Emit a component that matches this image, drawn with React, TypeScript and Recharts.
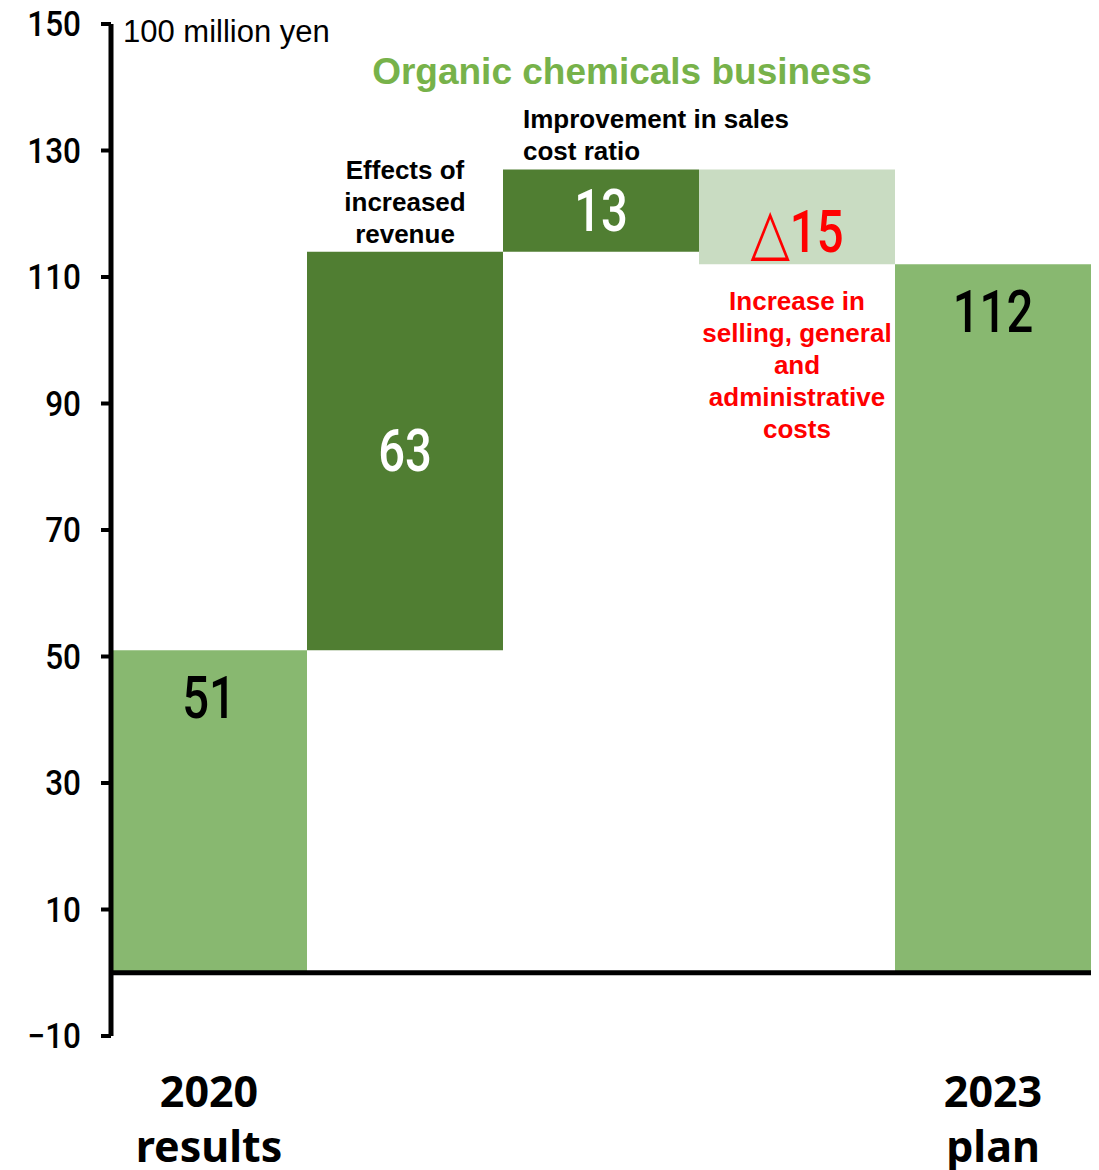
import React from "react";
import { ComposedChart, Bar, XAxis, YAxis, ReferenceLine, Cell, LabelList } from "recharts";

const categories = [
  "2020 results",
  "Effects of increased revenue",
  "Improvement in sales cost ratio",
  "Increase in selling, general and administrative costs",
  "2023 plan",
];
const baseValues = [0, 51, 114, 112, 0];
const deltaValues = [51, 63, 13, 15, 112];
const valueLabels = ["51", "63", "13", "△15", "112"];
const kinds = ["total", "up", "up", "down", "total"];
const yTicks = [-10, 10, 30, 50, 70, 90, 110, 130, 150];
const xTickLines = [["2020", "results"], [], [], [], ["2023", "plan"]];
const noteLines = [
  [],
  ["Effects of", "increased", "revenue"],
  ["Improvement in sales", "cost ratio"],
  ["Increase in", "selling, general", "and", "administrative", "costs"],
  [],
];
const titleText = "Organic chemicals business";
const unitText = "100 million yen";

const barColors = ["#88B870", "#507E32", "#507E32", "#C9DCC2", "#88B870"];
const labelColors = ["#000000", "#FFFFFF", "#FFFFFF", "#FF0000", "#000000"];
const noteColors = ["#000", "#000", "#000", "#FF0000", "#000"];
const noteAlign = ["middle", "middle", "start", "middle", "middle"];

const data = categories.map((name, i) => ({ name, base: baseValues[i], delta: deltaValues[i] }));

const NUMFONT = "Roboto, 'Liberation Sans', sans-serif";
const ARIAL = "'Liberation Sans', Arial, sans-serif";

const NarrowText = ({ x, y, sx, anchor, children, ...rest }: any) => (
  <g transform={`translate(${x},${y}) scale(${sx},1)`}>
    <text x={0} y={0} textAnchor={anchor} dominantBaseline="central" {...rest}>
      {children}
    </text>
  </g>
);

const renderValueLabel = (props: any) => {
  const { x, y, width, height, index } = props;
  const i = index;
  const kind = kinds[i];
  const cx = x + width / 2;
  let cy = y + height / 2;
  if (kind === "total") cy = y + 47;
  if (kind === "down") cy = y + height / 2 + 14;
  const label = valueLabels[i];
  const hasTri = label.startsWith("△");
  const nodes: any[] = [];
  nodes.push(
    <NarrowText
      key="v"
      x={cx}
      y={cy}
      sx={0.8}
      anchor="middle"
      fontFamily={NUMFONT}
      fontWeight={500}
      fontSize={59}
      fill={labelColors[i]}
    >
      {hasTri ? (
        <>
          <tspan fontFamily="'DejaVu Sans', sans-serif" fontWeight="bold" fontSize={64}>
            △
          </tspan>
          <tspan>{label.slice(1)}</tspan>
        </>
      ) : (
        label
      )}
    </NarrowText>
  );
  const lines = noteLines[i];
  const lh = 32;
  if (lines.length) {
    const anchor = noteAlign[i];
    const tx = anchor === "start" ? x + 20 : cx;
    if (kind === "up") {
      const lastY = y - 18;
      lines.forEach((ln, k) => {
        nodes.push(
          <text
            key={"n" + k}
            x={tx}
            y={lastY - (lines.length - 1 - k) * lh}
            textAnchor={anchor}
            dominantBaseline="central"
            fontFamily={ARIAL}
            fontWeight="bold"
            fontSize={26}
            fill={noteColors[i]}
          >
            {ln}
          </text>
        );
      });
    } else {
      const firstY = y + height + 37;
      lines.forEach((ln, k) => {
        nodes.push(
          <text
            key={"n" + k}
            x={tx}
            y={firstY + k * lh}
            textAnchor={anchor}
            dominantBaseline="central"
            fontFamily={ARIAL}
            fontWeight="bold"
            fontSize={26}
            fill={noteColors[i]}
          >
            {ln}
          </text>
        );
      });
    }
  }
  return <g>{nodes}</g>;
};

const XTick = (props: any) => {
  const { x, y, payload } = props;
  const lines = xTickLines[payload.index] || [];
  return (
    <g>
      {lines.map((ln, k) => (
        <text
          key={k}
          x={x}
          y={y + 46 + k * 55}
          textAnchor="middle"
          dominantBaseline="central"
          fontFamily="'Noto Sans', 'Liberation Sans', sans-serif"
          fontWeight="bold"
          fontSize={43}
          fill="#000"
        >
          {ln}
        </text>
      ))}
    </g>
  );
};

const formatY = (v: number) => (v < 0 ? "\u2212" + Math.abs(v) : String(v));

const YTick = (props: any) => {
  const { x, y, payload } = props;
  return (
    <NarrowText
      x={x}
      y={y}
      sx={0.9}
      anchor="end"
      fontFamily={NUMFONT}
      fontWeight={500}
      fontSize={35}
      fill="#000"
    >
      {formatY(payload.value)}
    </NarrowText>
  );
};

export default function App() {
  return (
    <div style={{ position: "absolute", left: 0, top: 0, width: 1099, height: 1170, background: "#fff" }}>
      <ComposedChart
        width={1099}
        height={1170}
        data={data}
        margin={{ top: 24, right: 8, bottom: 0, left: 0 }}
        barCategoryGap={0}
        barGap={0}
      >
        <XAxis
          dataKey="name"
          axisLine={false}
          tickLine={false}
          interval={0}
          tick={<XTick />}
          height={134}
        />
        <YAxis
          type="number"
          domain={[-10, 150]}
          ticks={yTicks}
          width={111}
          axisLine={{ stroke: "#000", strokeWidth: 5 }}
          tickLine={{ stroke: "#000", strokeWidth: 4 }}
          tickSize={10}
          tickMargin={20}
          tick={<YTick />}
          interval={0}
        />
        <Bar dataKey="base" stackId="a" fill="transparent" isAnimationActive={false} />
        <Bar dataKey="delta" stackId="a" isAnimationActive={false}>
          {data.map((d, i) => (
            <Cell key={i} fill={barColors[i]} />
          ))}
          <LabelList dataKey="delta" content={renderValueLabel} />
        </Bar>
        <ReferenceLine y={0} stroke="#000" strokeWidth={5} ifOverflow="extendDomain" />
      </ComposedChart>
      <div
        style={{
          position: "absolute",
          left: 123,
          top: 16,
          fontFamily: ARIAL,
          fontSize: 31,
          lineHeight: "31px",
          color: "#000",
          whiteSpace: "nowrap",
        }}
      >
        {unitText}
      </div>
      <div
        style={{
          position: "absolute",
          left: 322,
          width: 600,
          textAlign: "center",
          top: 53,
          fontFamily: ARIAL,
          fontWeight: "bold",
          fontSize: 37,
          lineHeight: "37px",
          color: "#77B24A",
          whiteSpace: "nowrap",
        }}
      >
        {titleText}
      </div>
    </div>
  );
}
